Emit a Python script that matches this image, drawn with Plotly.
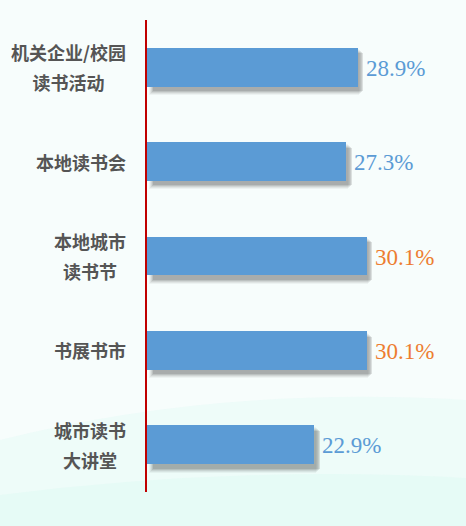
import plotly.graph_objects as go

# ---- data ----
categories = ["机关企业/校园读书活动", "本地读书会", "本地城市读书节", "书展书市", "城市读书大讲堂"]
label_lines = [["机关企业/校园", "读书活动"], ["本地读书会"], ["本地城市", "读书节"], ["书展书市"], ["城市读书", "大讲堂"]]
values = [28.9, 27.3, 30.1, 30.1, 22.9]

BLUE = "#5B9BD5"
ORANGE = "#ED7D31"
W, H = 466, 526
ML, MR, MT, MB = 147, 0, 20, 34
XMAX = 43.7
BAR_W = 0.41

plot_w = W - ML - MR
plot_h = H - MT - MB
px_x = XMAX / plot_w            # data units per pixel (x)
px_y = len(categories) / plot_h  # category units per pixel (y)

fig = go.Figure()

# soft drop shadows (layers to imitate blur)
for grow, alpha in [(3.5, 0.05), (2.5, 0.07), (1.5, 0.09), (0.5, 0.12), (-0.5, 0.14)]:
    fig.add_trace(go.Bar(
        y=categories, x=values, orientation="h",
        base=(5 - grow) * px_x,
        width=BAR_W + 2 * grow * px_y,
        offset=-BAR_W / 2 - grow * px_y + 5 * px_y,
        marker=dict(color=f"rgba(50,50,50,{alpha})", line=dict(width=0)),
        hoverinfo="skip", showlegend=False,
    ))

# main bars
fig.add_trace(go.Bar(
    y=categories, x=values, orientation="h",
    width=BAR_W,
    marker=dict(color=BLUE, line=dict(width=0)),
    showlegend=False,
))

vmax = max(values)
annotations = []
for cat, v in zip(categories, values):
    annotations.append(dict(
        x=v, y=cat, xref="x", yref="y", xanchor="left", yanchor="middle",
        xshift=6, yshift=-1, showarrow=False, text=f"{v:.1f}%",
        font=dict(family="Liberation Serif", size=23, color=ORANGE if v == vmax else BLUE),
    ))
for cat, lines in zip(categories, label_lines):
    txt = "<br>".join(f"<span style='font-size:18px'>{ln}</span>" for ln in lines)
    annotations.append(dict(
        x=0, y=cat, xref="paper", yref="y", xanchor="right", yanchor="middle",
        xshift=-19, showarrow=False, align="center", text=txt,
        font=dict(family="Noto Sans CJK SC", size=23, color="#555555", weight="bold"),
    ))

def px2paper(x, y):
    return ((x - ML) / plot_w, (H - MB - y) / plot_h)

def band(pts, color):
    p = [px2paper(*q) for q in pts]
    path = f"M {p[0][0]},{p[0][1]} Q {p[1][0]},{p[1][1]} {p[2][0]},{p[2][1]}"
    b1 = px2paper(W, H)
    b0 = px2paper(0, H)
    path += f" L {b1[0]},{b1[1]} L {b0[0]},{b0[1]} Z"
    return dict(type="path", xref="paper", yref="paper", path=path,
                fillcolor=color, line=dict(width=0), layer="below")

shapes = [
    band([(0, 440), (220, 385), (466, 400)], "rgba(220,248,243,0.35)"),
    band([(0, 495), (240, 465), (466, 478)], "rgba(215,248,242,0.35)"),
]

fig.update_layout(
    width=W, height=H,
    margin=dict(l=ML, r=MR, t=MT, b=MB, pad=0),
    paper_bgcolor="#F7FDFC", plot_bgcolor="rgba(0,0,0,0)",
    barmode="overlay", bargap=0,
    xaxis=dict(range=[0, XMAX], visible=False, fixedrange=True),
    yaxis=dict(categoryorder="array", categoryarray=categories, autorange="reversed",
               showticklabels=False, ticks="", showgrid=False, zeroline=False,
               showline=True, linecolor="#C00000", linewidth=1.5, fixedrange=True),
    annotations=annotations, shapes=shapes,
)

fig.write_html("out.html", config={"displayModeBar": False},
               post_script="document.body.style.margin='0px';document.body.style.background='#F7FDFC';")
